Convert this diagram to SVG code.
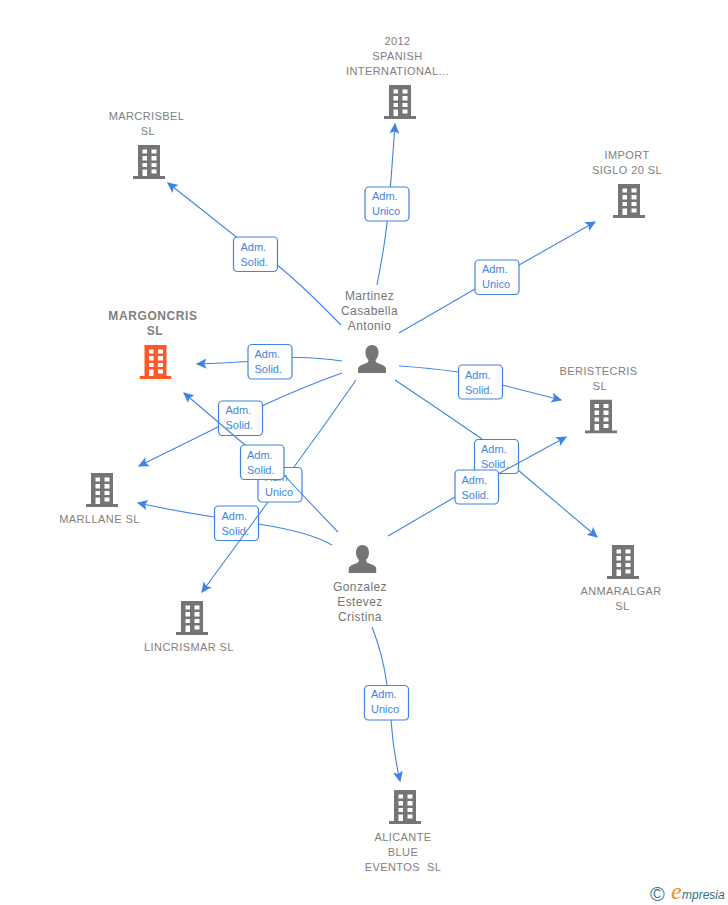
<svg xmlns="http://www.w3.org/2000/svg" width="728" height="905" viewBox="0 0 728 905">
<style>
text{font-family:"Liberation Sans",Arial,sans-serif}
.n{font-size:11px;fill:#808080;text-anchor:middle;letter-spacing:.42px}
.p{font-size:12px;fill:#757575;text-anchor:middle;letter-spacing:.4px}
.b{font-size:12px;font-weight:700;fill:#808080;text-anchor:middle;letter-spacing:.6px}
.e{fill:none;stroke:#3f84e4;stroke-width:1.1;marker-end:url(#a)}
.r{fill:#fff;stroke:#3f84e4;stroke-width:1.2}
.t{font-size:11px;fill:#3f84e4}
.g{fill:#757575}
.o{fill:#ff5a26}
</style>
<defs>
<marker id="a" markerUnits="userSpaceOnUse" markerWidth="12" markerHeight="12" refX="8" refY="5" orient="auto" viewBox="0 0 10 10"><path d="M0,0.8L9,5L0,9.2L2,5Z" fill="#3f84e4"/></marker>
<symbol id="bld" viewBox="0 0 32 34" width="32" height="34"><path fill-rule="evenodd" d="M5,0H27V31H32V34H0V31H5ZM9.500,4.500V8.500H14V4.500ZM18.500,4.500V8.500H23.500V4.500ZM9.500,11V15.500H14V11ZM18.500,11V15.500H23.500V11ZM9.500,18V22H14V18ZM18.500,18V22H23.500V18ZM9.500,24.500V31H14V24.500ZM18.500,24.500V28.500H23.500V24.500Z"/></symbol>
<symbol id="per" viewBox="0 0 28 28" width="28" height="28"><path d="M14,0C18,0 20.500,3 20.500,7.500C20.500,11 19,13.500 17.500,15C17.500,17 19,18 22,19C26,20.500 28,21.500 28,24V28H0V24C0,21.500 2,20.500 6,19C9,18 10.500,17 10.500,15C9,13.500 7.500,11 7.500,7.500C7.500,3 10,0 14,0Z"/></symbol>
</defs>

<g id="connectors">
<path class="e" d="M377,285Q386,240 389,204T395,124"/>
<g><rect class="r" x="365" y="187" width="44" height="34" rx="4"/><text class="t" x="372" y="200">Adm.</text><text class="t" x="372" y="215">Unico</text></g>

<path class="e" d="M341,325Q300,283 277,265M240,240Q205,212 168,183"/>
<g><rect class="r" x="233.500" y="237" width="44" height="34.500" rx="4"/><text class="t" x="240.500" y="251">Adm.</text><text class="t" x="240.500" y="266">Solid.</text></g>

<path class="e" d="M399,333L475,289M519,265L595,222"/>
<g><rect class="r" x="475" y="260" width="44" height="34.500" rx="4"/><text class="t" x="482" y="273">Adm.</text><text class="t" x="482" y="288">Unico</text></g>

<path class="e" d="M342,361Q316,357 292,357.500M248,361.500Q222,363 197,364"/>
<g><rect class="r" x="248" y="344.500" width="44" height="34.500" rx="4"/><text class="t" x="254.500" y="358">Adm.</text><text class="t" x="254.500" y="373">Solid.</text></g>

<path class="e" d="M342,373Q300,388 262,406M218,427L139,466"/>
<g><rect class="r" x="218.500" y="401" width="44" height="34.500" rx="4"/><text class="t" x="225.500" y="414">Adm.</text><text class="t" x="225.500" y="429">Solid.</text></g>

<path class="e" d="M332,545Q310,532 258,524M214,517Q175,511 138,503"/>
<g><rect class="r" x="214.500" y="506" width="44" height="34.500" rx="4"/><text class="t" x="221.500" y="520">Adm.</text><text class="t" x="221.500" y="535">Solid.</text></g>

<path class="e" d="M356,380Q325,425 294,467M268,502L202,592"/>
<g><rect class="r" x="258" y="467.500" width="44" height="34.500" rx="4"/><text class="t" x="265" y="481">Adm.</text><text class="t" x="265" y="496">Unico</text></g>

<path class="e" d="M338,532Q310,503 284,475M245,445L184,393"/>
<g><rect class="r" x="240.500" y="445" width="43.500" height="34.500" rx="4"/><text class="t" x="247" y="459">Adm.</text><text class="t" x="247" y="474">Solid.</text></g>

<path class="e" d="M399,366Q430,368 458,372M502,385L561,400"/>
<g><rect class="r" x="458.500" y="365" width="44" height="34" rx="4"/><text class="t" x="465" y="379">Adm.</text><text class="t" x="465" y="394">Solid.</text></g>

<path class="e" d="M395,380Q440,410 482,439M518,470L597,537"/>
<g><rect class="r" x="474.500" y="439.500" width="44" height="34" rx="4"/><text class="t" x="481" y="453">Adm.</text><text class="t" x="481" y="468">Solid.</text></g>

<path class="e" d="M388,536L455,497M498,474L566,437"/>
<g><rect class="r" x="455" y="470" width="43.500" height="34" rx="4"/><text class="t" x="461.500" y="484">Adm.</text><text class="t" x="461.500" y="499">Solid.</text></g>

<path class="e" d="M372,627Q383,655 387,685M391,720Q393,750 400,781"/>
<g><rect class="r" x="364.500" y="685.500" width="44" height="34.500" rx="4"/><text class="t" x="371" y="698">Adm.</text><text class="t" x="371" y="713">Unico</text></g>
</g>

<g id="n2012"><use href="#bld" x="384" y="85" class="g"/><text class="n" x="397.500" y="45">2012</text><text class="n" x="397.500" y="60">SPANISH</text><text class="n" x="397.500" y="75">INTERNATIONAL...</text></g>
<g id="marcrisbel"><use href="#bld" x="133" y="145" class="g"/><text class="n" x="146.500" y="120">MARCRISBEL</text><text class="n" x="148" y="135">SL</text></g>
<g id="import"><use href="#bld" x="613" y="184" class="g"/><text class="n" x="627" y="159">IMPORT</text><text class="n" x="627" y="174">SIGLO 20 SL</text></g>
<g id="margoncris"><use href="#bld" x="139.500" y="345" class="o"/><text class="b" x="153" y="320">MARGONCRIS</text><text class="b" x="155" y="335">SL</text></g>
<g id="beristecris"><use href="#bld" x="585" y="399.500" class="g"/><text class="n" x="598.500" y="375">BERISTECRIS</text><text class="n" x="600" y="390">SL</text></g>
<g id="marllane"><use href="#bld" x="86" y="473" class="g"/><text class="n" x="99.500" y="523">MARLLANE SL</text></g>
<g id="lincrismar"><use href="#bld" x="176" y="601" class="g"/><text class="n" x="189" y="651">LINCRISMAR SL</text></g>
<g id="anmaralgar"><use href="#bld" x="607" y="545" class="g"/><text class="n" x="621" y="595">ANMARALGAR</text><text class="n" x="622.500" y="610">SL</text></g>
<g id="alicante"><use href="#bld" x="389" y="790" class="g"/><text class="n" x="403" y="841">ALICANTE</text><text class="n" x="403" y="856">BLUE</text><text class="n" x="403" y="871" xml:space="preserve">EVENTOS  SL</text></g>
<g id="martinez"><use href="#per" x="358" y="345" class="g"/><text class="p" x="369.500" y="300">Martinez</text><text class="p" x="369.500" y="315">Casabella</text><text class="p" x="369.500" y="330">Antonio</text></g>
<g id="gonzalez"><use href="#per" x="348.500" y="545" class="g"/><text class="p" x="360" y="591">Gonzalez</text><text class="p" x="360" y="606">Estevez</text><text class="p" x="360" y="621">Cristina</text></g>
<g id="watermark"><text x="650" y="901" style="font-size:20px" fill="#3d7a8c">©</text><text x="671" y="899" style="font-family:'Liberation Serif',serif;font-size:24px;font-style:italic" fill="#f08a24">e</text><text x="682" y="899" style="font-size:12px;font-style:italic" fill="#2f6f80">mpresia</text></g>
</svg>
